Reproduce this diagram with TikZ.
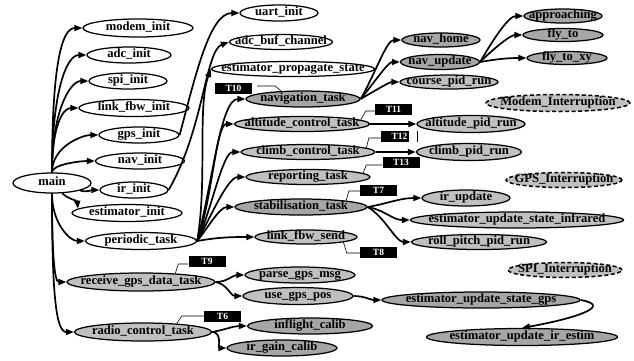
\documentclass[tikz,border=0pt]{standalone}
\usepackage{fontspec}
\setmainfont{Liberation Serif}
\usetikzlibrary{shapes.geometric, arrows.meta, positioning}
\definecolor{taskgray}{HTML}{C0C0C0}
\definecolor{callgray}{HTML}{A6A6A6}

\begin{document}
\begin{tikzpicture}[x=1pt, y=1pt, >={Triangle[length=8pt,width=6pt]},
  fn/.style={ellipse, draw, line width=1.25pt, inner sep=0pt, minimum width=#1,
    minimum height=16pt, text height=7pt, text depth=2pt,
    font=\bfseries\fontsize{12.6}{14}\selectfont,
    execute at begin node={\hbox to 0pt\bgroup\hss},
    execute at end node={\hss\egroup}},
  init/.style={fn=#1, fill=white},
  task/.style={fn=#1, fill=taskgray},
  call/.style={fn=#1, fill=callgray},
  irq/.style={fn=#1, fill=taskgray, dash pattern=on 4pt off 2.5pt, line width=1.5pt},
  tag/.style={fill=black, text=white, inner sep=0pt, minimum width=37pt,
    minimum height=11pt, font=\bfseries\fontsize{9.5}{10}\selectfont},
  leader/.style={line width=0.6pt}]
	\useasboundingbox (0,0) rectangle (634,-360);

	\node[init=78pt, minimum height=20pt] (main) at (52,-183) {main};
	\node[init=110pt, minimum height=18pt] (modem_init) at (138,-28) {modem\_init};
	\node[init=84pt] (adc_init) at (129,-55) {adc\_init};
	\node[init=78pt] (spi_init) at (128,-81) {spi\_init};
	\node[init=110pt, minimum height=17pt] (link_fbw_init) at (134,-108) {link\_fbw\_init};
	\node[init=80pt] (gps_init) at (139,-135) {gps\_init};
	\node[init=89pt] (nav_init) at (140,-161) {nav\_init};
	\node[init=68pt] (ir_init) at (134,-190) {ir\_init};
	\node[init=110pt, minimum height=17pt] (estimator_init) at (127,-213) {estimator\_init};
	\node[init=111pt, minimum height=17pt] (periodic_task) at (141,-241) {periodic\_task};
	\node[task=148pt, minimum height=18pt] (receive_gps_data_task) at (141,-282) {receive\_gps\_data\_task};
	\node[task=137pt, minimum height=18pt] (radio_control_task) at (143,-332) {radio\_control\_task};

	\node[init=78pt] (uart_init) at (279,-13) {uart\_init};
	\node[init=103pt, minimum height=15pt] (adc_buf_channel) at (281,-42) {adc\_buf\_channel};
	\node[init=163pt, minimum height=15pt] (estimator_propagate_state) at (293,-69) {estimator\_propagate\_state};
	\node[call=114pt] (navigation_task) at (303,-99) {navigation\_task};
	\node[task=135pt, minimum height=15pt] (altitude_control_task) at (302,-124) {altitude\_control\_task};
	\node[task=134pt, minimum height=15pt] (climb_control_task) at (308,-152) {climb\_control\_task};
	\node[task=124pt, minimum height=15pt] (reporting_task) at (308,-177) {reporting\_task};
	\node[call=132pt] (stabilisation_task) at (301,-207) {stabilisation\_task};
	\node[task=102pt, minimum height=14pt] (link_fbw_send) at (306,-237) {link\_fbw\_send};
	\node[task=110pt] (parse_gps_msg) at (300,-275) {parse\_gps\_msg};
	\node[task=110pt, minimum height=17pt] (use_gps_pos) at (298,-296) {use\_gps\_pos};
	\node[call=125pt] (inflight_calib) at (310,-326) {inflight\_calib};
	\node[call=110pt] (ir_gain_calib) at (282,-348) {ir\_gain\_calib};

	\node[call=78pt, minimum height=14pt] (nav_home) at (441,-40) {nav\_home};
	\node[call=79pt, minimum height=15pt] (nav_update) at (440,-62) {nav\_update};
	\node[task=98pt, minimum height=14pt] (course_pid_run) at (449,-82) {course\_pid\_run};
	\node[call=78pt, minimum height=14pt] (approaching) at (563,-16) {approaching};
	\node[call=80pt, minimum height=13pt] (fly_to) at (563,-35) {fly\_to};
	\node[call=80pt, minimum height=13pt] (fly_to_xy) at (567,-58) {fly\_to\_xy};
	\node[irq=144pt, minimum height=17pt] (Modem_Interruption) at (558,-103) {Modem\_Interruption};
	\node[task=108pt, minimum height=17pt] (altitude_pid_run) at (471,-124) {altitude\_pid\_run};
	\node[task=105pt, minimum height=17pt] (climb_pid_run) at (469,-152) {climb\_pid\_run};
	\node[irq=116pt, minimum height=15pt] (GPS_Interruption) at (564,-180) {GPS\_Interruption};
	\node[task=88pt] (ir_update) at (466,-198) {ir\_update};
	\node[task=213pt] (estimator_update_state_infrared) at (517,-220) {estimator\_update\_state\_infrared};
	\node[task=135pt, minimum height=15pt] (roll_pitch_pid_run) at (479,-242) {roll\_pitch\_pid\_run};
	\node[irq=114pt, minimum height=15pt] (SPI_Interruption) at (565,-270) {SPI\_Interruption};
	\node[call=198pt] (estimator_update_state_gps) at (481,-300) {estimator\_update\_state\_gps};
	\node[call=191pt, minimum height=17pt] (estimator_update_ir_estim) at (522,-337) {estimator\_update\_ir\_estim};

	\node[tag] (T10) at (233.5,-88) {T10};
	\node[tag] (T11) at (393.5,-109) {T11};
	\node[tag] (T12) at (399.5,-136) {T12};
	\node[tag] (T13) at (401,-162.5) {T13};
	\node[tag] (T7) at (378.5,-190) {T7};
	\node[tag] (T8) at (378.5,-252.5) {T8};
	\node[tag] (T9) at (207,-261) {T9};
	\node[tag] (T6) at (222.5,-316) {T6};
	\fill[white] ([xshift=-9pt]T12.north east) rectangle ([xshift=-1pt]T12.south east);

	\path[->, line width=1.7pt]
	(main) edge [out=90, in=180, out distance=100pt, in distance=22pt] (modem_init)
	(main) edge [out=90, in=180, out distance=80pt, in distance=20pt] (adc_init)
	(main) edge [out=90, in=180, out distance=62pt, in distance=18pt] (spi_init)
	(main) edge [out=90, in=180, out distance=45pt, in distance=16pt] (link_fbw_init)
	(main) edge [out=90, in=180, out distance=26pt, in distance=16pt] (gps_init)
	(main) edge [out=90, in=180, out distance=8pt, in distance=15pt] (nav_init)
	(main) edge [out=-15, in=180] (ir_init)
	(main) edge [out=-45, in=95, out distance=8pt, in distance=8pt] (estimator_init.175)
	(main) edge [out=-90, in=180, out distance=30pt, in distance=15pt] (periodic_task)
	(main) edge [out=-90, in=180, out distance=60pt, in distance=12pt] (receive_gps_data_task)
	(main) edge [out=-90, in=180, out distance=100pt, in distance=18pt] (radio_control_task)

	(gps_init.east) edge [out=75, in=180, out distance=60pt, in distance=30pt] (uart_init.west)
	(ir_init.east) edge [out=60, in=200, out distance=70pt, in distance=25pt] (adc_buf_channel.west)

	(periodic_task.east) edge [out=80, in=250, out distance=60pt, in distance=40pt] (estimator_propagate_state.west)
	(periodic_task.east) edge [out=75, in=180, out distance=60pt, in distance=25pt] (navigation_task.west)
	(periodic_task.east) edge [out=70, in=180, out distance=45pt, in distance=18pt] (altitude_control_task.west)
	(periodic_task.east) edge [out=65, in=180, out distance=35pt, in distance=18pt] (climb_control_task.west)
	(periodic_task.east) edge [out=60, in=180, out distance=25pt, in distance=18pt] (reporting_task.west)
	(periodic_task.east) edge [out=50, in=180, out distance=15pt, in distance=15pt] (stabilisation_task.west)
	(periodic_task.east) edge [out=10, in=180] (link_fbw_send.west)

	(navigation_task.east) edge [out=60, in=180, out distance=30pt, in distance=15pt] (nav_home.west)
	(navigation_task.east) edge [out=50, in=180, out distance=20pt, in distance=12pt] (nav_update.west)
	(navigation_task.east) edge [out=30, in=180, out distance=15pt, in distance=10pt] (course_pid_run.west)
	(nav_update.east) edge [out=60, in=180, out distance=25pt, in distance=15pt] (approaching.west)
	(nav_update.east) edge [out=45, in=180, out distance=18pt, in distance=12pt] (fly_to.west)
	(nav_update.east) edge [out=10, in=180] (fly_to_xy.west)
	(altitude_control_task) edge (altitude_pid_run)
	(climb_control_task) edge (climb_pid_run)
	(stabilisation_task.east) edge [out=10, in=180] (ir_update.west)
	(stabilisation_task.east) edge [out=-10, in=180] (estimator_update_state_infrared.west)
	(stabilisation_task.east) edge [out=-30, in=180, out distance=20pt, in distance=15pt] (roll_pitch_pid_run.west)
	(receive_gps_data_task.east) edge [out=0, in=180] (parse_gps_msg.west)
	(receive_gps_data_task.east) edge [out=-10, in=180] (use_gps_pos.west)
	(use_gps_pos.east) edge [out=0, in=180] (estimator_update_state_gps.west)
	(estimator_update_state_gps.east) edge [out=-10, in=10, out distance=35pt, in distance=50pt] (estimator_update_ir_estim.north)
	(radio_control_task.east) edge [out=10, in=180] (inflight_calib.west)
	(radio_control_task.east) edge [out=0, in=180, out distance=10pt, in distance=8pt] (ir_gain_calib.west)
	;

	\draw[leader] ([xshift=5pt,yshift=2pt]T10.east) -- ++(18,0) -- (navigation_task.160);
	\draw[leader] ([yshift=-2pt]T11.west) -- ++(-9,0) -- (altitude_control_task.4.5);
	\draw[leader] ([yshift=-2pt]T12.west) -- ++(-12,0) -- (climb_control_task.4.5);
	\draw[leader] ([yshift=-2.5pt]T13.west) -- ++(-16,0) -- (reporting_task.4);
	\draw[leader] ([yshift=-1pt]T7.west) -- ++(-11,0) -- (stabilisation_task.8);
	\draw[leader] ([yshift=-0.5pt]T8.west) -- ++(-13,0) -- (link_fbw_send.-8);
	\draw[leader] ([yshift=-3pt]T9.west) -- ++(-10,0) -- (receive_gps_data_task.14);
	\draw[leader] (T6.west) -- ++(-22,0) -- (radio_control_task.14);
\end{tikzpicture}
\end{document}
